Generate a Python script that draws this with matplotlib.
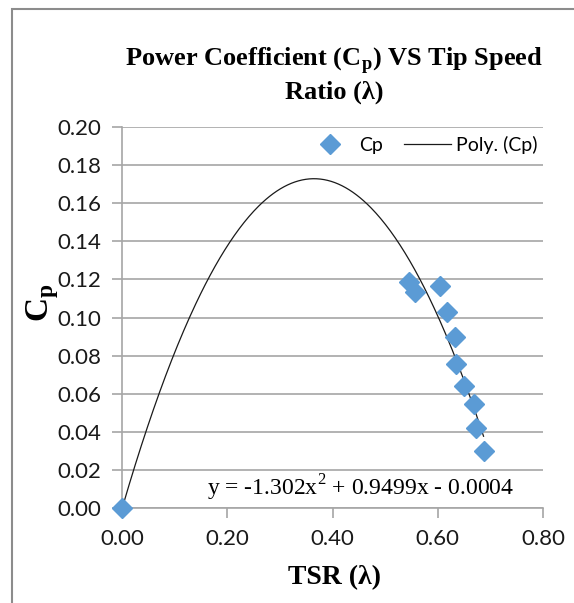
import numpy as np
import matplotlib
matplotlib.use("Agg")
import matplotlib.pyplot as plt
from matplotlib.patches import Rectangle
from matplotlib.lines import Line2D

# Data
tsr = [0.0, 0.545, 0.556, 0.604, 0.618, 0.632, 0.634, 0.650, 0.669, 0.672, 0.687]
cp = [0.0, 0.1188, 0.1135, 0.1167, 0.1030, 0.0896, 0.0756, 0.0640, 0.0544, 0.0422, 0.0299]
poly_coef = [-1.302, 0.9499, -0.0004]  # trendline coefficients (x^2, x, const)
x_ticks = [0.0, 0.2, 0.4, 0.6, 0.8]
y_ticks = [0.00, 0.02, 0.04, 0.06, 0.08, 0.10, 0.12, 0.14, 0.16, 0.18, 0.20]

W, H = 574, 603
fig = plt.figure(figsize=(W / 100, H / 100), dpi=100)
ax = fig.add_axes([122 / W, 1 - 508 / H, (543 - 122) / W, (508 - 127) / H])

sans = ["Lato", "DejaVu Sans"]
serif = ["Liberation Serif", "DejaVu Serif"]
blue = "#5B9BD5"
grid = "#A6A6A6"

# Trendline
xs = np.linspace(0, max(tsr), 300)
ys = np.polyval(poly_coef, xs)
ax.plot(xs, ys, color="#1a1a1a", lw=0.9, zorder=2)
ax.plot(tsr, cp, linestyle="none", marker="D", ms=10.5, color=blue, mec=blue, zorder=3, clip_on=False)

ax.set_xlim(0, 0.8)
ax.set_ylim(0, 0.2)
ax.set_xticks(x_ticks)
ax.set_yticks(y_ticks)
ax.set_xticklabels([f"{v:.2f}" for v in x_ticks], fontfamily=sans, fontsize=16)
ax.set_yticklabels([f"{v:.2f}" for v in y_ticks], fontfamily=sans, fontsize=16)
ax.yaxis.grid(True, color=grid, lw=1.2)
ax.set_axisbelow(True)
for s in ["top", "right"]:
    ax.spines[s].set_visible(False)
for s in ["left", "bottom"]:
    ax.spines[s].set_color(grid)
    ax.spines[s].set_linewidth(1.2)
ax.tick_params(axis="both", direction="out", length=7, width=1.2, color=grid, pad=8, labelcolor="#1a1a1a")

fig.text(334 / W, 1 - 578 / H, "TSR (λ)", ha="center", va="center",
         fontfamily=serif, fontweight="bold", fontsize=20)
fig.text(43 / W, 1 - 303 / H, "C$_\\mathregular{p}$", ha="center", va="center", rotation=90,
         fontfamily=serif, fontweight="bold", fontsize=24)

fig.text(334 / W, 1 - 60 / H, "Power Coefficient (C$_\\mathregular{p}$) VS Tip Speed", ha="center", va="center",
         fontfamily=serif, fontweight="bold", fontsize=19)
fig.text(334 / W, 1 - 92 / H, "Ratio (λ)", ha="center", va="center",
         fontfamily=serif, fontweight="bold", fontsize=19)

fig.text(361 / W, 1 - 488 / H, "y = -1.302x$^\\mathregular{2}$ + 0.9499x - 0.0004", fontfamily=serif, fontsize=17,
         va="center", ha="center")

handles = [Line2D([], [], linestyle="none", marker="D", ms=10, color=blue),
           Line2D([], [], color="#1a1a1a", lw=0.9)]
leg = ax.legend(handles, ["Cp", "Poly. (Cp)"], loc="center right", bbox_to_anchor=(0.988, 0.953), ncol=2,
                frameon=False, prop={"family": sans, "size": 14}, handlelength=2.4, columnspacing=1.1,
                handletextpad=0.3, borderpad=0, borderaxespad=0)

# chart border
fig.patches.append(Rectangle((12 / W, -0.1), 1.2, 1 - 9 / H + 0.1, transform=fig.transFigure,
                             fill=False, edgecolor="#8c8c8c", lw=1.5))

fig.savefig("out.png", dpi=100)
